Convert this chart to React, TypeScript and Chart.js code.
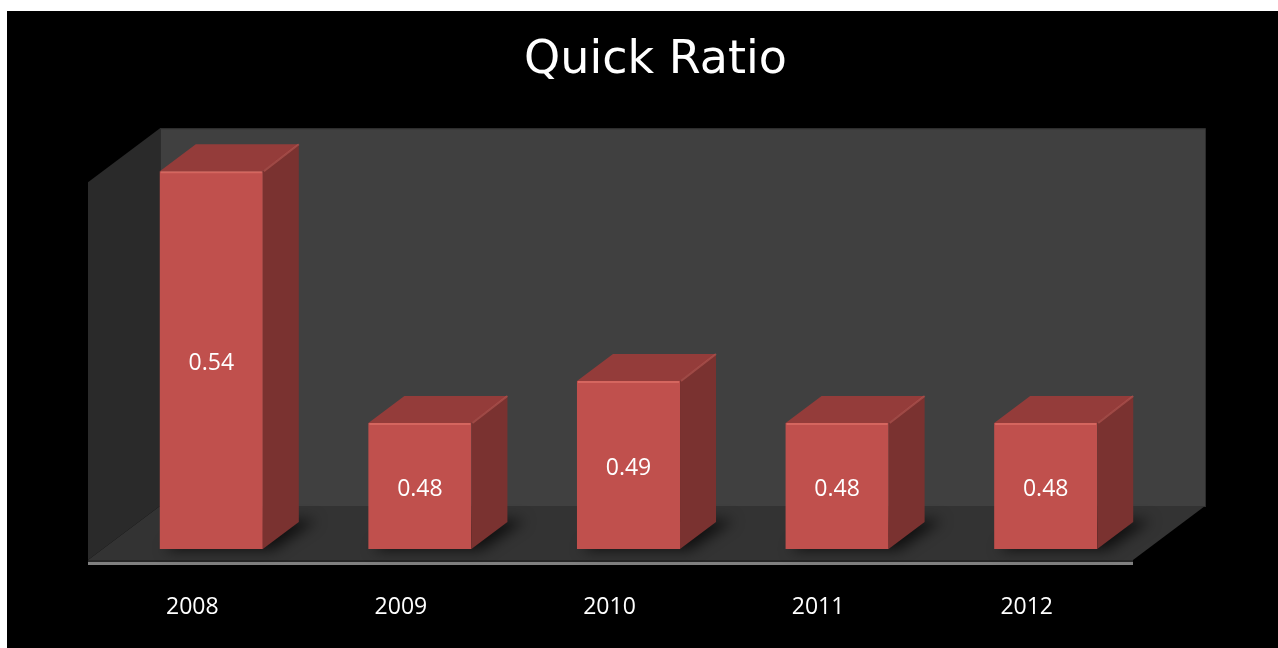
import React, { useEffect, useRef } from "react";
import { Chart, registerables } from "chart.js";

Chart.register(...registerables);

const categories = ["2008", "2009", "2010", "2011", "2012"];
const quickRatio = [0.54, 0.48, 0.49, 0.48, 0.48];
const valueLabels = ["0.54", "0.48", "0.49", "0.48", "0.48"];
const axisMin = 0.45;
const axisMax = 0.55;
const chartTitle = "Quick Ratio";

const FRONT = "#c0504d";
const TOP = "#943c3a";
const SIDE = "#7a3230";
const LABEL_FONT = '23px "Open Sans", "Liberation Sans", sans-serif';

// 3D geometry (styling only)
const WALL_DX = 72;
const WALL_DY = -54;
const BAR_DX = 36;
const BAR_DY = -27;

function poly(ctx: CanvasRenderingContext2D, pts: number[][], fill: string) {
  ctx.beginPath();
  ctx.moveTo(pts[0][0], pts[0][1]);
  for (let i = 1; i < pts.length; i++) ctx.lineTo(pts[i][0], pts[i][1]);
  ctx.closePath();
  ctx.fillStyle = fill;
  ctx.fill();
}

function barGeom(chart: any, el: any) {
  const base = chart.scales.y.getBasePixel();
  return { x: el.x, y: el.y, width: el.width, base };
}

const threeDPlugin = {
  id: "threeD",
  beforeDatasetsDraw(chart: any) {
    const { ctx, chartArea: a } = chart;
    const fx0 = a.left - 19;
    const fx1 = a.right - 17;
    const fyB = a.bottom + 11;
    const fyT = a.top + 53;
    ctx.save();
    // back wall
    ctx.fillStyle = "#404040";
    ctx.fillRect(fx0 + WALL_DX, fyT + WALL_DY, fx1 - fx0, fyB - fyT);
    ctx.strokeStyle = "#2c2c2c";
    ctx.lineWidth = 1;
    ctx.strokeRect(fx0 + WALL_DX + 0.5, fyT + WALL_DY + 0.5, fx1 - fx0, fyB - fyT);
    // left wall
    poly(
      ctx,
      [
        [fx0, fyT],
        [fx0 + WALL_DX, fyT + WALL_DY],
        [fx0 + WALL_DX, fyB + WALL_DY],
        [fx0, fyB],
      ],
      "#2a2a2a"
    );
    // floor
    poly(
      ctx,
      [
        [fx0, fyB],
        [fx0 + WALL_DX, fyB + WALL_DY],
        [fx1 + WALL_DX, fyB + WALL_DY],
        [fx1, fyB],
      ],
      "#333333"
    );
    // floor front slab
    ctx.fillStyle = "#262626";
    ctx.fillRect(fx0, fyB, fx1 - fx0, 2);
    ctx.fillStyle = "#808080";
    ctx.fillRect(fx0, fyB + 2, fx1 - fx0, 3);
    // bar shadows
    const meta = chart.getDatasetMeta(0);
    meta.data.forEach((el: any) => {
      const p = barGeom(chart, el);
      const x0 = p.x - p.width / 2;
      const x1 = p.x + p.width / 2;
      const b = p.base;
      ctx.save();
      ctx.filter = "blur(7px)";
      poly(
        ctx,
        [
          [x0 + 4, b + 1],
          [x1 + 10, b + 1],
          [x1 + BAR_DX + 18, b + BAR_DY - 2],
          [x0 + BAR_DX, b + BAR_DY - 2],
        ],
        "rgba(0,0,0,0.7)"
      );
      ctx.restore();
    });
    ctx.restore();
  },
  afterDatasetsDraw(chart: any) {
    const { ctx, chartArea: a } = chart;
    const meta = chart.getDatasetMeta(0);
    ctx.save();
    meta.data.forEach((el: any, i: number) => {
      const p = barGeom(chart, el);
      const x0 = p.x - p.width / 2;
      const x1 = p.x + p.width / 2;
      const y = p.y;
      const b = p.base;
      // top face
      poly(
        ctx,
        [
          [x0, y],
          [x0 + BAR_DX, y + BAR_DY],
          [x1 + BAR_DX, y + BAR_DY],
          [x1, y],
        ],
        TOP
      );
      // side face
      poly(
        ctx,
        [
          [x1, y],
          [x1 + BAR_DX, y + BAR_DY],
          [x1 + BAR_DX, b + BAR_DY],
          [x1, b],
        ],
        SIDE
      );
      // bevel highlights
      ctx.strokeStyle = "rgba(230,120,112,0.55)";
      ctx.lineWidth = 2;
      ctx.beginPath();
      ctx.moveTo(x0 + 1, y + 1);
      ctx.lineTo(x1 - 1, y + 1);
      ctx.stroke();
      ctx.strokeStyle = "rgba(200,95,90,0.5)";
      ctx.beginPath();
      ctx.moveTo(x1 + 1, y);
      ctx.lineTo(x1 + BAR_DX, y + BAR_DY);
      ctx.stroke();
      // value label
      ctx.fillStyle = "#ffffff";
      ctx.font = LABEL_FONT;
      ctx.textAlign = "center";
      ctx.textBaseline = "middle";
      ctx.fillText(valueLabels[i], p.x, (y + b) / 2 + 3);
      // category label
      ctx.fillText(chart.data.labels[i], p.x - 19, a.bottom + 58);
    });
    ctx.restore();
  },
};

export default function App() {
  const ref = useRef<HTMLCanvasElement | null>(null);
  useEffect(() => {
    if (!ref.current) return;
    const chart = new Chart(ref.current, {
      type: "bar",
      data: {
        labels: categories,
        datasets: [
          {
            label: chartTitle,
            data: quickRatio,
            backgroundColor: FRONT,
            borderWidth: 0,
            barPercentage: 0.494,
            categoryPercentage: 1,
            yAxisID: "y",
          },
        ],
      },
      options: {
        animation: false,
        responsive: true,
        maintainAspectRatio: false,
        layout: { padding: { left: 26, right: 0, top: 0, bottom: 99 } },
        plugins: {
          legend: { display: false },
          tooltip: { enabled: false },
          title: {
            display: true,
            text: chartTitle,
            color: "#ffffff",
            font: { family: '"DejaVu Sans", sans-serif', size: 46, weight: "normal", lineHeight: 1.2 },
            padding: { top: 22, bottom: 41 },
          },
        },
        scales: {
          x: { display: false },
          y: {
            display: true,
            position: "left",
            min: axisMin,
            max: axisMax,
            beginAtZero: false,
            ticks: { display: false },
            grid: { display: false },
            border: { display: false },
            afterFit: (s: any) => {
              s.width = 74;
            },
          },
          y2: {
            display: true,
            position: "right",
            min: 0,
            max: 1,
            ticks: { display: false },
            grid: { display: false },
            border: { display: false },
            afterFit: (s: any) => {
              s.width = 128;
            },
          },
        },
      },
      plugins: [threeDPlugin],
    });
    return () => chart.destroy();
  }, []);
  return (
    <div
      style={{
        position: "absolute",
        left: 7,
        top: 11,
        width: 1271,
        height: 637,
        background: "#000000",
      }}
    >
      <canvas ref={ref} />
    </div>
  );
}
